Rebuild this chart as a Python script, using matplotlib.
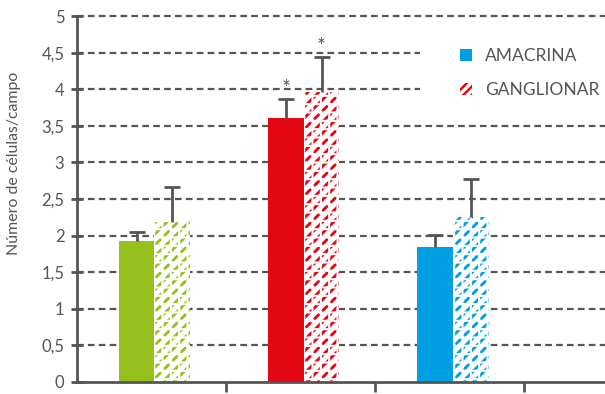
import matplotlib
matplotlib.use('Agg')
import matplotlib.pyplot as plt
from matplotlib.patches import Patch, Rectangle
import numpy as np

plt.rcParams['font.family'] = ['Lato', 'DejaVu Sans']
plt.rcParams['hatch.linewidth'] = 1.8

# datos
grupos = ['grupo 1', 'grupo 2', 'grupo 3']
colores = ['#95C11F', '#E30613', '#009FE3']
amacrina = [1.93, 3.61, 1.84]
amacrina_err = [0.12, 0.26, 0.17]
ganglionar = [2.18, 3.96, 2.26]
ganglionar_err = [0.49, 0.48, 0.52]
asteriscos = [(1, 0, '*'), (1, 1, '*')]  # (grupo, serie, texto)
yticks = [0, 0.5, 1, 1.5, 2, 2.5, 3, 3.5, 4, 4.5, 5]
ytick_labels = ['0', '0,5', '1', '1,5', '2', '2,5', '3', '3,5', '4', '4,5', '5']

gris = '#555555'

fig = plt.figure(figsize=(6.05, 3.94), dpi=100)
ax = fig.add_axes([0.127, 0.0305, 0.873, 0.9285])

x = np.arange(len(grupos)) + 0.52
w = 0.24

# barras lisas
ax.bar(x - w / 2, amacrina, w, color=colores, zorder=3)
# barras con trama: diagonales de color cortadas por una cuadricula blanca
trama = ax.bar(x + w / 2, ganglionar, w, facecolor='white', edgecolor=colores,
               linewidth=0, hatch='///', zorder=3)
cortes = ax.bar(x + w / 2, ganglionar, w, facecolor='none', edgecolor='white',
                linewidth=0, hatch='++', zorder=3.5)
for p in trama:
    if hasattr(p, 'set_hatch_linewidth'):
        p.set_hatch_linewidth(2.1)
for p in cortes:
    if hasattr(p, 'set_hatch_linewidth'):
        p.set_hatch_linewidth(1.5)

# barras de error (solo hacia arriba)
for xs, vals, errs in [(x - w / 2, amacrina, amacrina_err),
                       (x + w / 2, ganglionar, ganglionar_err)]:
    tops = np.array(vals) + np.array(errs)
    ax.vlines(xs, vals, tops, color=gris, linewidth=2, zorder=4)
    ax.plot(xs, tops, linestyle='none', marker='_', markersize=11,
            markeredgewidth=2, color=gris, zorder=4)

# asteriscos
for g, s, t in asteriscos:
    if s == 0:
        xx, yy = x[g] - w / 2, amacrina[g] + amacrina_err[g]
    else:
        xx, yy = x[g] + w / 2, ganglionar[g] + ganglionar_err[g]
    ax.text(xx, yy + 0.14, t, ha='center', va='center', fontsize=15, color=gris)

# rejilla
for yv in yticks[1:]:
    ax.axhline(yv, color=gris, linewidth=1.6, linestyle=(0, (3.0, 1.9)), zorder=1,
               clip_on=False)

ax.set_ylim(0, 5)
ax.set_xlim(0, 3.54)
ax.set_yticks(yticks)
ax.set_yticklabels(ytick_labels)
ax.set_xticks([1, 2, 3])
ax.set_xticklabels([])
ax.tick_params(axis='y', direction='inout', length=8, width=2, color=gris,
               labelcolor=gris, labelsize=12, pad=5)
ax.tick_params(axis='x', direction='out', length=7, width=2, color=gris)
for s in ['top', 'right']:
    ax.spines[s].set_visible(False)
for s in ['left', 'bottom']:
    ax.spines[s].set_color(gris)
    ax.spines[s].set_linewidth(2)
    ax.spines[s].set_zorder(5)

# etiqueta del eje y, ajustada a ~183 px de largo
ylab = ax.set_ylabel('Número de células/campo', fontsize=11, color=gris)
ax.yaxis.set_label_coords(-0.105, 0.598)
fig.canvas.draw()
alto = ylab.get_window_extent(fig.canvas.get_renderer()).height
ylab.set_fontsize(11 * 183 / alto)

# fondo blanco de la leyenda
ax.add_patch(Rectangle((0.65, 0.75), 0.36, 0.2, transform=ax.transAxes,
                       facecolor='white', edgecolor='none', zorder=2))

# leyenda
handles = [Patch(facecolor=colores[2], edgecolor=colores[2], linewidth=0),
           Patch(facecolor='white', edgecolor=colores[1], linewidth=0, hatch='////')]
leg = ax.legend(handles, ['AMACRINA', 'GANGLIONAR'], loc='upper left',
                bbox_to_anchor=(0.682, 0.975), frameon=False,
                handlelength=0.7, handleheight=0.7, handletextpad=0.75,
                labelspacing=1.05, fontsize=12.5, borderpad=0.8)
leg.set_zorder(6)
for t in leg.get_texts():
    t.set_color(gris)

fig.savefig('out.png', dpi=100)
